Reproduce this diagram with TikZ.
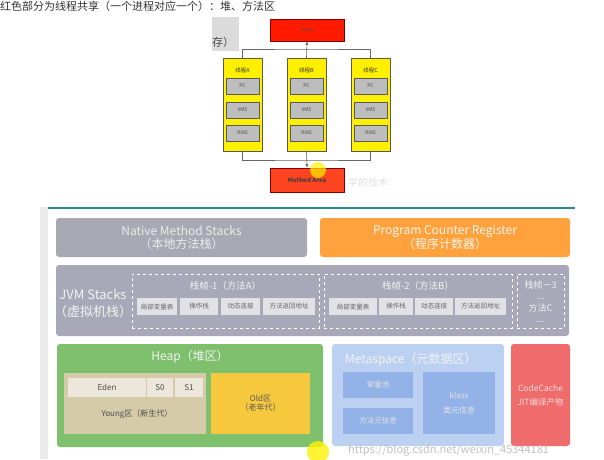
\documentclass[tikz,border=0pt]{standalone}
\usepackage{fontspec}
\setmainfont{Noto Sans CJK SC}
\usetikzlibrary{positioning, arrows.meta}

\definecolor{heapred}{HTML}{FF1A00}
\definecolor{areared}{HTML}{FF4422}
\definecolor{thryel}{HTML}{FFF000}
\definecolor{regbox}{HTML}{BDBDBD}
\definecolor{nmsgray}{HTML}{A9A9B5}
\definecolor{pcrorange}{HTML}{FFA23E}
\definecolor{jvmgray}{HTML}{A8A8B8}
\definecolor{slotgray}{HTML}{E2E2E6}
\definecolor{heapgreen}{HTML}{7FC06E}
\definecolor{youngtan}{HTML}{D5CBA8}
\definecolor{edenbeige}{HTML}{ECE7DA}
\definecolor{oldyel}{HTML}{F6C83E}
\definecolor{metablue}{HTML}{BCD0F2}
\definecolor{metainner}{HTML}{92B2E8}
\definecolor{cachered}{HTML}{F06C6C}
\definecolor{ruleteal}{HTML}{2A8C80}

\tikzset{
    blk/.style={anchor=north west, inner sep=0pt, outer sep=0pt},
    thread/.style={blk, draw=black!65, line width=0.7pt, fill=thryel, minimum width=39, minimum height=93},
    reg/.style={blk, draw=black!65, line width=0.7pt, fill=regbox, minimum width=33, minimum height=16, font=\fontsize{5}{6}\selectfont, text=black!70},
    area/.style={blk, rounded corners=3pt, align=center},
    slot/.style={blk, fill=slotgray, minimum height=17, font=\fontsize{6.5}{7}\selectfont, text=black!60},
    frame/.style={blk, draw=white, dashed, line width=0.6pt, minimum height=54},
    wire/.style={draw=black!60, line width=0.6pt},
}

\begin{document}
\begin{tikzpicture}[x=1pt, y=-1pt]
    \useasboundingbox (0,0) rectangle (604,459);
    \clip (0,0) rectangle (604,459);
    \fill[white] (0,0) rectangle (604,459);

    % page text and cropped box
    \node[anchor=west, inner sep=0pt, font=\fontsize{11}{12}\selectfont, text=black!80] (note) at (0,6.5) {红色部分为线程共享（一个进程对应一个）：堆、方法区};
    \node[blk, fill=black!14, minimum width=27, minimum height=34] (crop) at (212,17) {};
    \node[anchor=west, inner sep=0pt, font=\fontsize{11}{12}\selectfont, text=black!70] (croptxt) at (212,42) {存）};

    % threads sharing heap and method area
    \node[blk, draw=red!50!black, line width=0.6pt, fill=heapred, minimum width=74, minimum height=22, font=\fontsize{5}{6}\selectfont, text=black!70] (topheap) at (270,19) {Heap};
    \node[thread] (tA) at (223,58) {};
    \node[thread] (tB) at (287,58) {};
    \node[thread] (tC) at (351,58) {};
    \foreach \t/\n in {tA/A, tB/B, tC/C} {
        \node[font=\fontsize{5.5}{6}\selectfont, inner sep=0pt, text=black!80] at ([yshift=-12]\t.north) {线程\n};
        \node[reg] (\t pc) at ([xshift=3]\t.north west |- 0,78) {PC};
        \node[reg] (\t vms) at ([xshift=3]\t.north west |- 0,102) {VMS};
        \node[reg] (\t nms) at ([xshift=3]\t.north west |- 0,125) {NMS};
    }
    \node[blk, draw=red!50!black, line width=0.6pt, fill=areared, minimum width=74, minimum height=24, font=\fontsize{6}{7}\selectfont\bfseries, text=black!75] (marea) at (270,168) {Method Area};
    \node[anchor=west, inner sep=0pt, font=\fontsize{10}{11}\selectfont, text=black!12] (mark) at (348,183) {学的技术};

    \coordinate (busT) at (306.5,49);
    \coordinate (busB) at (306.5,160);
    \draw[wire] (tA.north) |- (busT) -| (tC.north);
    \draw[wire, -{Latex[length=4pt, width=3pt]}] (tB.north) -- (topheap.south);
    \draw[wire] (tA.south) |- (busB) -| (tC.south);
    \draw[wire, -{Latex[length=4pt, width=3pt]}] (tB.south) -- (marea.north);

    \fill[yellow, opacity=0.7] (318,170) circle (8);

    % runtime data areas
    \fill[black!8] (40,207) rectangle (48,459);
    \draw[ruleteal, line width=1.2pt] (48,208) -- (575,208);

    \node[area, fill=nmsgray, minimum width=251, minimum height=39, font=\fontsize{12}{13}\selectfont, text=white!92!black] (nms) at (56,218) {Native Method Stacks\\（本地方法栈）};
    \node[area, fill=pcrorange, minimum width=250, minimum height=39, font=\fontsize{12}{13}\selectfont, text=white!92!orange] (pcr) at (320,218) {Program Counter Register\\（程序计数器）};

    \node[area, fill=jvmgray, minimum width=513, minimum height=71] (jvm) at (56,265) {};
    \node[align=center, inner sep=0pt, font=\fontsize{13}{17}\selectfont, text=white!95!black] (jvmlbl) at (93,303) {JVM Stacks\\（虚拟机栈）};

    \node[frame, minimum width=187] (f1) at (132,274) {};
    \node[inner sep=0pt, font=\fontsize{9.5}{10}\selectfont, text=white!95!black] (f1t) at (225.5,286) {栈帧-1（方法A）};
    \node[slot, minimum width=40] (f1a) at (137,298) {局部变量表};
    \node[slot, minimum width=38] (f1b) at (180,298) {操作栈};
    \node[slot, minimum width=39] (f1c) at (221,298) {动态连接};
    \node[slot, minimum width=52] (f1d) at (263,298) {方法返回地址};

    \node[frame, minimum width=188] (f2) at (324,274) {};
    \node[inner sep=0pt, font=\fontsize{9.5}{10}\selectfont, text=white!95!black] (f2t) at (418,286) {栈帧-2（方法B）};
    \node[slot, minimum width=48] (f2a) at (329,298) {局部变量表};
    \node[slot, minimum width=34] (f2b) at (379,298) {操作栈};
    \node[slot, minimum width=38] (f2c) at (415,298) {动态连接};
    \node[slot, minimum width=51] (f2d) at (455,298) {方法返回地址};

    \node[frame, minimum width=47] (f3) at (517,274) {};
    \node[align=center, inner sep=0pt, font=\fontsize{9}{11.5}\selectfont, text=white!95!black] (f3t) at (540.5,302) {栈帧－3\\...\\方法C\\...};

    \node[area, fill=heapgreen, minimum width=266, minimum height=103] (heap) at (57,344) {};
    \node[inner sep=0pt, font=\fontsize{12}{13}\selectfont, text=white!95!black] (heapt) at (190,357) {Heap（堆区）};
    \node[blk, fill=youngtan, minimum width=142, minimum height=61] (young) at (64,373) {};
    \node[blk, fill=edenbeige, minimum width=78, minimum height=19, font=\fontsize{8}{9}\selectfont, text=black!70] (eden) at (68,378) {Eden};
    \node[blk, fill=edenbeige, minimum width=26, minimum height=19, font=\fontsize{8}{9}\selectfont, text=black!70] (s0) at (147,378) {S0};
    \node[blk, fill=edenbeige, minimum width=28, minimum height=19, font=\fontsize{8}{9}\selectfont, text=black!70] (s1) at (175,378) {S1};
    \node[inner sep=0pt, font=\fontsize{8}{9}\selectfont, text=black!70] (youngt) at (137,414) {Young区（新生代）};
    \node[blk, fill=oldyel, minimum width=99, minimum height=61, align=center, font=\fontsize{8}{9}\selectfont, text=black!65] (old) at (211,373) {Old区\\（老年代）};

    \node[area, fill=metablue, minimum width=172, minimum height=102] (meta) at (332,344) {};
    \node[anchor=west, inner sep=0pt, font=\fontsize{12}{13}\selectfont, text=white!95!black] (metat) at (345,360) {Metaspace（元数据区）};
    \node[blk, fill=metainner, minimum width=70, minimum height=26, font=\fontsize{7.5}{8}\selectfont, text=white!90!black] (cpool) at (343,372) {常量池};
    \node[blk, fill=metainner, minimum width=70, minimum height=26, font=\fontsize{7.5}{8}\selectfont, text=white!90!black] (minfo) at (343,408) {方法元信息};
    \node[blk, fill=metainner, minimum width=72, minimum height=62, align=center, font=\fontsize{8}{15}\selectfont, text=white!90!black] (klass) at (423,372) {klass\\类元信息};

    \node[area, fill=cachered, minimum width=59, minimum height=102, font=\fontsize{8.5}{14}\selectfont, text=white!85!red] (ccache) at (511,344) {CodeCache\\JIT编译产物};

    \node[anchor=west, inner sep=0pt, font=\fontsize{11}{12}\selectfont, text=black!30, opacity=0.8] (url) at (348,450) {https://blog.csdn.net/weixin\_45344181};
    \fill[yellow, opacity=0.8] (318,452) circle (11);
\end{tikzpicture}
\end{document}
